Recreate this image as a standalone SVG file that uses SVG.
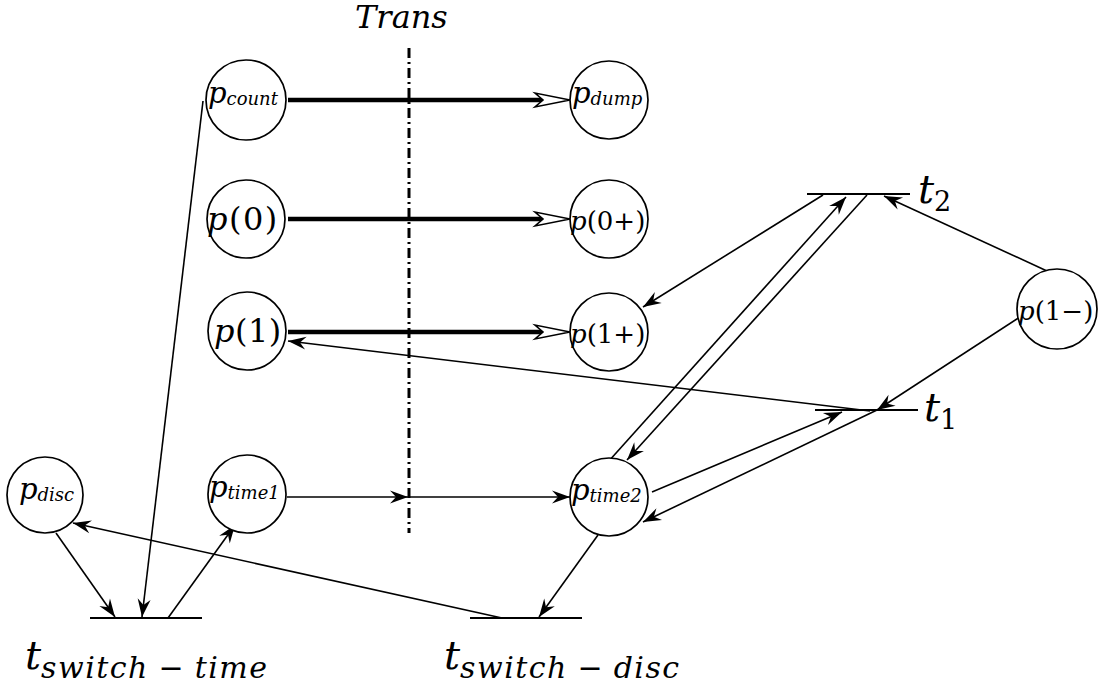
<svg xmlns="http://www.w3.org/2000/svg" width="1098" height="687" viewBox="0 0 1098 687">
<style>
.n{fill:#fff;stroke:#000;stroke-width:1.7}
.m{font-family:'DejaVu Serif','Liberation Serif',serif;font-style:italic;fill:#000}
.u{font-style:normal}
.c{fill:none;stroke:#000;stroke-width:1.6}
.th{fill:none;stroke:#000;stroke-width:4.5}
.tr{stroke:#000;stroke-width:2.2}
</style>
<defs>
<marker id="a" viewBox="-19 -8 20 16" refX="0" refY="0" markerWidth="20" markerHeight="16" markerUnits="userSpaceOnUse" orient="auto">
<path d="M0,0 L-18,-6.5 L-12,0 L-18,6.5 Z" fill="#000"/>
</marker>
<path id="oh" d="M0,0 L-35,-7 L-27,0 L-35,7 Z" fill="#fff" stroke="#000" stroke-width="1.6"/>
</defs>
<rect width="1098" height="687" fill="#fff"/>

<g id="trans">
<line x1="409" y1="48" x2="409" y2="533" stroke="#000" stroke-width="3" stroke-dasharray="10 4 2 4"/>
<text class="m" x="355" y="28" font-size="32">Trans</text>
</g>

<g id="connectors">
<line class="th" x1="288" y1="100" x2="546" y2="100"/>
<use href="#oh" x="570" y="100"/>
<line class="th" x1="288" y1="219" x2="546" y2="219"/>
<use href="#oh" x="570" y="219"/>
<line class="th" x1="288" y1="332" x2="546" y2="332"/>
<use href="#oh" x="570" y="332"/>
<path class="c" d="M203,101 L142,617" marker-end="url(#a)"/>
<path class="c" d="M56,533 L115,617" marker-end="url(#a)"/>
<path class="c" d="M168,618 L235,525" marker-end="url(#a)"/>
<path class="c" d="M502,618 L73,523" marker-end="url(#a)"/>
<path class="c" d="M598,535 L539,617" marker-end="url(#a)"/>
<path class="c" d="M287,497 L408,497" marker-end="url(#a)"/>
<path class="c" d="M408,497 L570,497" marker-end="url(#a)"/>
<path class="c" d="M1047,271 L884,196" marker-end="url(#a)"/>
<path class="c" d="M823,195 L643,307" marker-end="url(#a)"/>
<path class="c" d="M608,462 L846,197" marker-end="url(#a)"/>
<path class="c" d="M867,195 L627,460" marker-end="url(#a)"/>
<path class="c" d="M1020,317 L877,410" marker-end="url(#a)"/>
<path class="c" d="M870,411 L288,341" marker-end="url(#a)"/>
<path class="c" d="M652,492 L842,412" marker-end="url(#a)"/>
<path class="c" d="M877,410 L643,522" marker-end="url(#a)"/>
</g>

<g id="p_count"><circle class="n" cx="246" cy="100" r="40"/>
<text class="m" x="208" y="103" font-size="29">p<tspan font-size="18" dy="2">count</tspan></text></g>
<g id="p_dump"><circle class="n" cx="609" cy="100" r="39"/>
<text class="m" x="572" y="103" font-size="29">p<tspan font-size="18" dy="2">dump</tspan></text></g>
<g id="p0"><circle class="n" cx="246" cy="219" r="39"/>
<text class="m" x="207" y="230" font-size="32" letter-spacing="1.5">p<tspan class="u">(0)</tspan></text></g>
<g id="p0plus"><circle class="n" cx="609" cy="219" r="39"/>
<text class="m" x="570" y="230" font-size="26">p<tspan class="u">(0+)</tspan></text></g>
<g id="p1"><circle class="n" cx="247" cy="331" r="39"/>
<text class="m" x="214" y="342" font-size="32" letter-spacing="0.5">p<tspan class="u">(1)</tspan></text></g>
<g id="p1plus"><circle class="n" cx="609" cy="332" r="39"/>
<text class="m" x="570" y="343" font-size="26">p<tspan class="u">(1+)</tspan></text></g>
<g id="p1minus"><circle class="n" cx="1057" cy="309" r="40"/>
<text class="m" x="1018" y="320" font-size="26">p<tspan class="u">(1−)</tspan></text></g>
<g id="p_disc"><circle class="n" cx="45" cy="495" r="38"/>
<text class="m" x="19" y="499" font-size="29">p<tspan font-size="18" dy="2">disc</tspan></text></g>
<g id="p_time1"><circle class="n" cx="247" cy="494" r="39"/>
<text class="m" x="209" y="497" font-size="29">p<tspan font-size="18" dy="2">time1</tspan></text></g>
<g id="p_time2"><circle class="n" cx="609" cy="497" r="39"/>
<text class="m" x="571" y="500" font-size="29">p<tspan font-size="18" dy="2">time2</tspan></text></g>

<g id="t2"><line class="tr" x1="807" y1="194" x2="910" y2="194"/>
<text class="m" x="918" y="203" font-size="40">t<tspan class="u" font-size="27" dy="8">2</tspan></text></g>
<g id="t1"><line class="tr" x1="815" y1="410" x2="918" y2="410"/>
<text class="m" x="924" y="421" font-size="40">t<tspan class="u" font-size="27" dy="8">1</tspan></text></g>
<g id="t_switch_time"><line class="tr" x1="90" y1="618" x2="202" y2="618"/>
<text class="m" x="25" y="669" font-size="40">t<tspan font-size="30" dy="9" letter-spacing="1.5">switch</tspan><tspan class="u" font-size="30"> −</tspan><tspan font-size="30" letter-spacing="1.5"> time</tspan></text></g>
<g id="t_switch_disc"><line class="tr" x1="470" y1="618" x2="582" y2="618"/>
<text class="m" x="444" y="669" font-size="40">t<tspan font-size="30" dy="9" letter-spacing="1.5">switch</tspan><tspan class="u" font-size="30"> −</tspan><tspan font-size="30" letter-spacing="1.5"> disc</tspan></text></g>
</svg>
